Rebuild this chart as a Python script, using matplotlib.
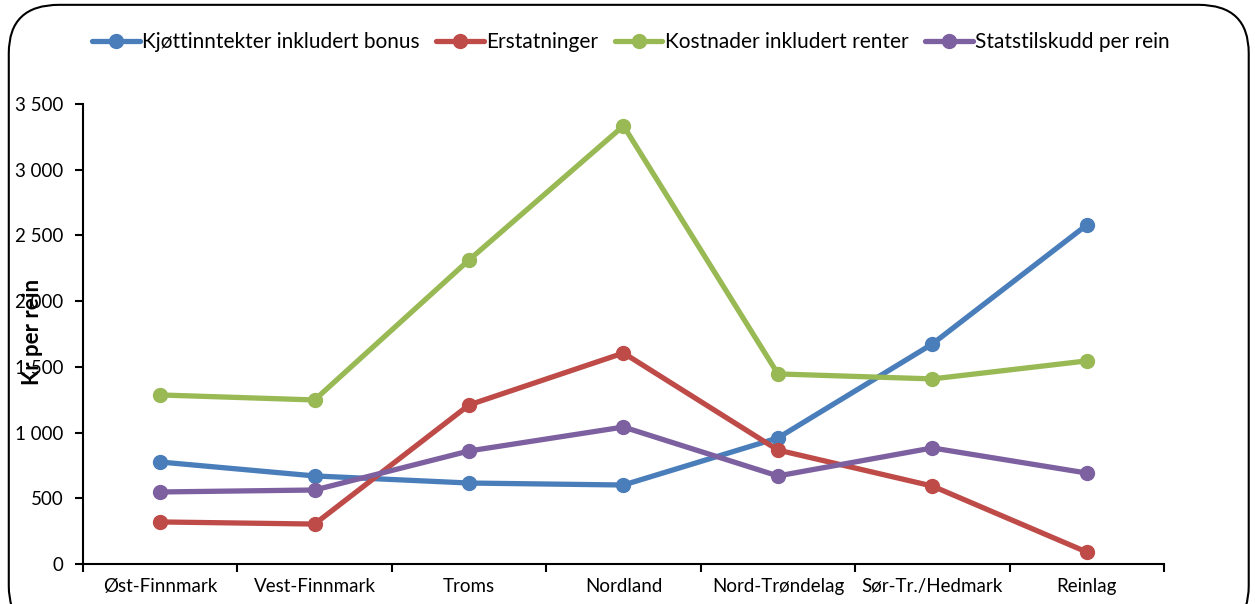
import matplotlib.pyplot as plt
import matplotlib.ticker as mticker
from matplotlib.patches import FancyBboxPatch

plt.rcParams['font.family'] = ['Lato', 'DejaVu Sans']

regions = ["Øst-Finnmark", "Vest-Finnmark", "Troms", "Nordland",
           "Nord-Trøndelag", "Sør-Tr./Hedmark", "Reinlag"]
kjott = [776, 670, 616, 601, 959, 1674, 2579]
erstatning = [320, 304, 1210, 1605, 867, 593, 91]
kostnader = [1286, 1248, 2313, 3333, 1446, 1408, 1545]
statstilskudd = [548, 563, 860, 1042, 670, 883, 692]

series = [
    ("Kjøttinntekter inkludert bonus", kjott, "#4a7ebb"),
    ("Erstatninger", erstatning, "#be4b48"),
    ("Kostnader inkludert renter", kostnader, "#98b954"),
    ("Statstilskudd per rein", statstilskudd, "#7d60a0"),
]

fig = plt.figure(figsize=(12.55, 6.04), dpi=100)
border = FancyBboxPatch((0.007, -0.05), 0.988, 1.042, transform=fig.transFigure,
                        boxstyle="round,pad=0,rounding_size=0.04",
                        fill=False, edgecolor="black", linewidth=1.5,
                        mutation_aspect=2.0)
fig.patches.append(border)

ax = fig.add_axes([0.0661, 0.0662, 0.8614, 0.7618])
x = [i + 0.5 for i in range(len(regions))]
for name, vals, col in series:
    ax.plot(x, vals, color=col, lw=3.8, marker="o", ms=10, label=name,
            solid_capstyle="round")

ax.set_xlim(0, len(regions))
ax.set_ylim(0, 3500)
ax.set_xticks(range(len(regions) + 1))
ax.set_xticklabels([])
ax.set_xticks(x, minor=True)
ax.set_xticklabels(regions, minor=True, fontsize=13.5)
ax.tick_params(axis="x", which="minor", length=0, pad=10)
ax.tick_params(axis="x", which="major", length=6, width=1.5, direction="out")
ax.set_yticks(range(0, 3501, 500))
ax.yaxis.set_major_formatter(mticker.FuncFormatter(lambda v, p: f"{int(v):,}".replace(",", " ")))
ax.tick_params(axis="y", length=6, width=1.5, labelsize=13.5, pad=8)
ax.spines["top"].set_visible(False)
ax.spines["right"].set_visible(False)
ax.spines["left"].set_linewidth(1.5)
ax.spines["bottom"].set_linewidth(1.5)

fig.text(0.026, 0.45, "Kr per rein", rotation=90, fontsize=16, fontweight="bold",
         ha="center", va="center")

ax.legend(loc="center left", bbox_to_anchor=(0.073, 0.93), bbox_transform=fig.transFigure,
          ncol=4, frameon=False, fontsize=15, handlelength=2.3, handletextpad=0.1,
          columnspacing=0.8, borderaxespad=0, borderpad=0)

fig.savefig("out.png", dpi=100)
